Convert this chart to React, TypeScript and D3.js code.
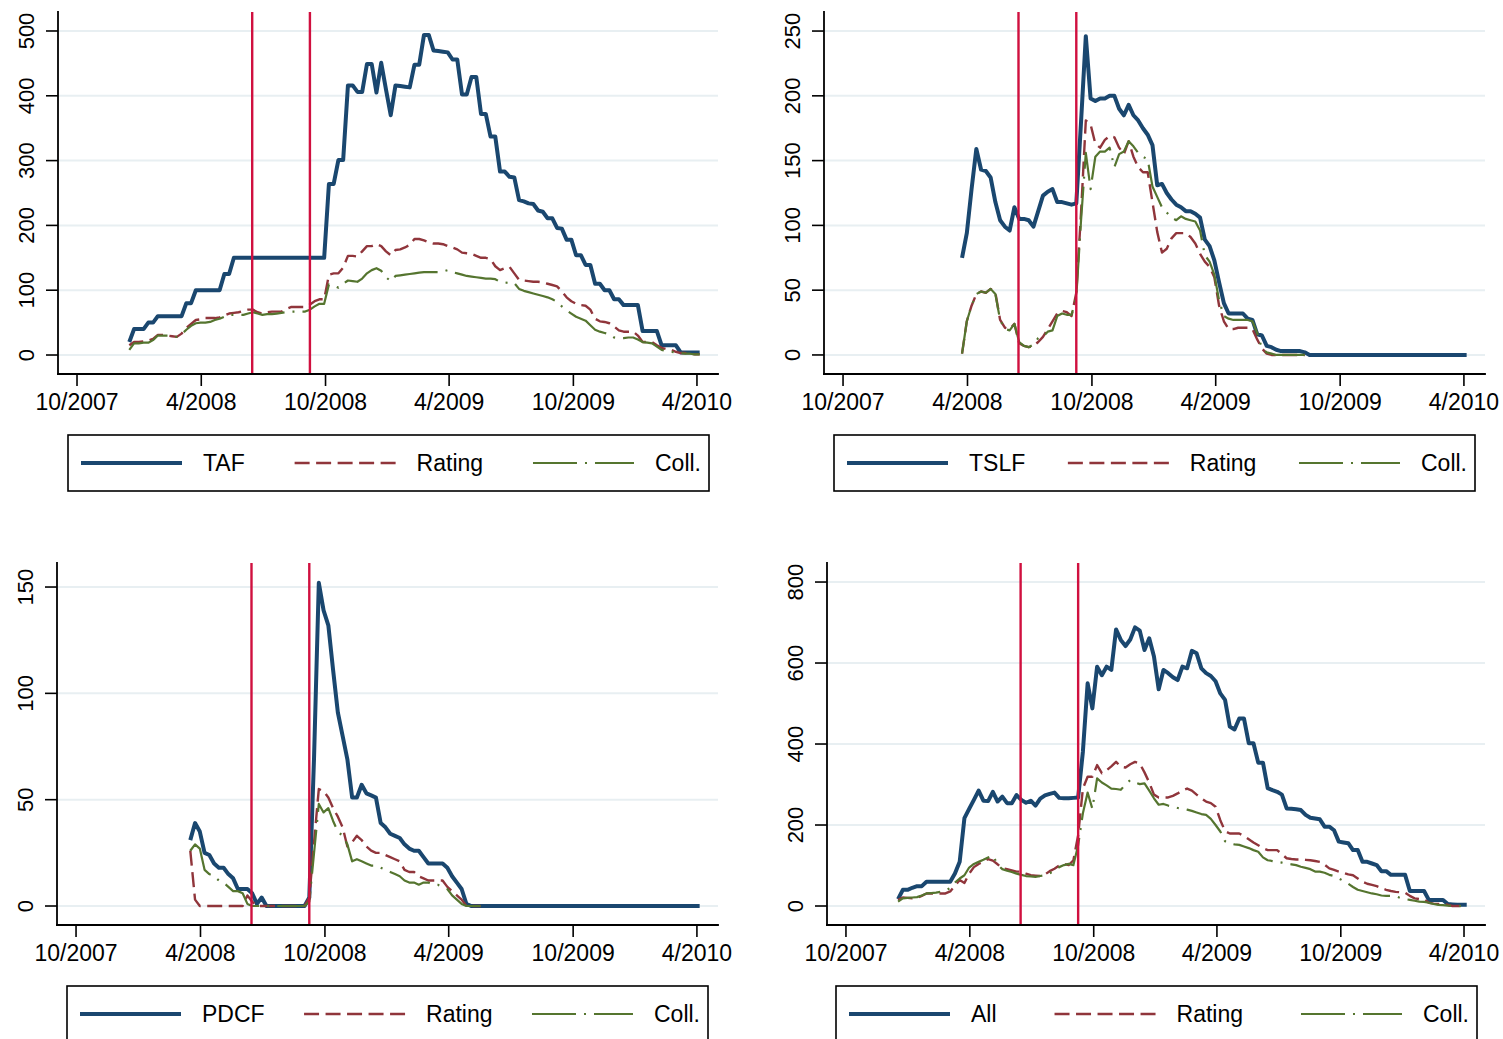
import React from "react";
import * as d3 from "d3";

// weekly observations; index 0 = week of 17 Dec 2007
const firstWeek = "2007-12-17";
const xDomainDates = ["2007-09-03", "2010-05-02"];
const xTickDates = ["2007-10-01", "2008-04-01", "2008-10-01", "2009-04-01", "2009-10-01", "2010-04-01"];
const xTickLabels = ["10/2007", "4/2008", "10/2008", "4/2009", "10/2009", "4/2010"];
const eventDates = ["2008-06-15", "2008-09-08"];
const seriesNames = ["Rating", "Coll."];

// TAF, starts week 0
const tafStart = 0;
const tafTicks = [0, 100, 200, 300, 400, 500];
const tafTotal = [
  20, 40, 40, 40, 50, 50, 60, 60, 60, 60,
  60, 60, 80, 80, 100, 100, 100, 100, 100, 100,
  125, 125, 150, 150, 150, 150, 150, 150, 150, 150,
  150, 150, 150, 150, 150, 150, 150, 150, 150, 150,
  150, 150, 264, 264, 301, 301, 416, 416, 406, 406,
  449, 449, 405, 451, 410, 370, 416, 415, 414, 413,
  448, 448, 494, 494, 470, 469, 468, 467, 456, 456,
  402, 402, 429, 429, 372, 372, 337, 337, 283, 283,
  275, 274, 239, 237, 234, 233, 223, 221, 211, 211,
  196, 195, 178, 178, 154, 154, 139, 139, 110, 110,
  100, 100, 86, 86, 77, 77, 77, 77, 37, 37,
  37, 37, 15, 15, 15, 15, 4, 4, 4, 4,
  4,
];
const tafRating = [
  15, 20, 20, 21, 22, 25, 31, 31, 30, 29,
  28, 33, 42, 48, 54, 55, 57, 57, 57, 58,
  61, 64, 65, 66, 68, 70, 70, 66, 64, 66,
  67, 67, 67, 71, 74, 74, 74, 74, 78, 83,
  86, 86, 124, 126, 126, 135, 153, 153, 152, 160,
  168, 168, 171, 168, 160, 154, 162, 163, 166, 170,
  179, 179, 177, 174, 172, 172, 171, 168, 166, 163,
  158, 157, 156, 153, 150, 150, 148, 137, 131, 134,
  136, 126, 116, 115, 114, 113, 113, 112, 110, 108,
  106, 98, 89, 83, 79, 77, 76, 70, 56, 52,
  51, 49, 44, 38, 36, 36, 36, 30, 20, 20,
  20, 15, 11, 9, 8, 5, 3, 3, 2, 1,
  1,
];
const tafColl = [
  8, 18, 18, 19, 19, 23, 30, 30, 30, 30,
  28, 32, 39, 45, 49, 50, 50, 51, 54, 56,
  59, 62, 62, 62, 62, 64, 66, 64, 62, 63,
  63, 64, 65, 66, 67, 67, 67, 67, 70, 75,
  79, 79, 109, 107, 104, 110, 115, 114, 113, 118,
  126, 131, 134, 130, 120, 114, 122, 123, 124, 125,
  126, 127, 128, 128, 128, 128, 129, 131, 128, 126,
  124, 122, 121, 120, 119, 118, 118, 117, 113, 112,
  111, 111, 102, 99, 97, 95, 93, 91, 89, 86,
  82, 75, 69, 64, 59, 56, 53, 46, 39, 36,
  34, 32, 27, 26, 26, 27, 27, 24, 20, 19,
  18, 13, 8, 6, 5, 4, 3, 2, 2, 1,
  1,
];

// TSLF, starts week 14
const tslfStart = 14;
const tslfTicks = [0, 50, 100, 150, 200, 250];
const tslfTotal = [
  75, 94, 128, 159, 143, 142, 137, 118, 104, 99,
  96, 114, 105, 105, 104, 99, 111, 123, 126, 128,
  118, 118, 117, 116, 117, 180, 246, 198, 196, 198,
  198, 200, 200, 190, 185, 193, 185, 181, 175, 170,
  162, 131, 132, 125, 120, 116, 114, 111, 111, 109,
  106, 89, 84, 73, 56, 40, 32, 32, 32, 32,
  28, 27, 16, 15, 7, 6, 4, 3, 3, 3,
  3, 3, 2, 0, 0, 0, 0, 0, 0, 0,
  0, 0, 0, 0, 0, 0, 0, 0, 0, 0,
  0, 0, 0, 0, 0, 0, 0, 0, 0, 0,
  0, 0, 0, 0, 0, 0, 0,
];
const tslfRating = [
  1, 26, 38, 47, 49, 48, 51, 48, 27, 21,
  20, 24, 9, 7, 6, 7, 10, 14, 20, 26,
  32, 34, 33, 30, 48, 110, 181, 178, 163, 160,
  166, 169, 168, 160, 155, 165, 153, 145, 141, 141,
  118, 95, 79, 82, 90, 94, 94, 94, 91, 86,
  78, 72, 68, 60, 38, 26, 20, 20, 21, 21,
  21, 20, 12, 5, 1, 0, 0, 0, 0, 0,
  0, 0, 0,
];
const tslfColl = [
  1, 26, 38, 47, 49, 48, 51, 47, 27, 20,
  19, 24, 10, 7, 6, 8, 13, 14, 18, 19,
  30, 32, 31, 31, 45, 104, 156, 128, 153, 157,
  157, 160, 145, 155, 157, 165, 161, 156, 153, 151,
  130, 122, 114, 110, 106, 104, 107, 105, 104, 103,
  96, 77, 72, 62, 42, 30, 28, 27, 27, 27,
  27, 26, 17, 5, 2, 1, 0, 0, 0, 0,
  0, 0, 0,
];

// PDCF, starts week 13
const pdcfStart = 13;
const pdcfTicks = [0, 50, 100, 150];
const pdcfTotal = [
  31, 39, 35, 25, 24, 20, 18, 18, 15, 13,
  8, 8, 8, 6, 1, 4, 0, 0, 0, 0,
  0, 0, 0, 0, 0, 4, 70, 152, 139, 132,
  111, 91, 80, 69, 51, 51, 57, 53, 52, 51,
  39, 37, 34, 33, 32, 29, 27, 26, 26, 23,
  20, 20, 20, 20, 18, 14, 11, 8, 1, 0,
  0, 0, 0, 0, 0, 0, 0, 0, 0, 0,
  0, 0, 0, 0, 0, 0, 0, 0, 0, 0,
  0, 0, 0, 0, 0, 0, 0, 0, 0, 0,
  0, 0, 0, 0, 0, 0, 0, 0, 0, 0,
  0, 0, 0, 0, 0, 0, 0, 0,
];
const pdcfRating = [
  26, 3, 0, 0, 0, 0, 0, 0, 0, 0,
  0, 0, 5, 2, 0, 0, 0, 0, 0, 0,
  0, 0, 0, 0, 0, 4, 30, 55, 54, 51,
  46, 42, 37, 28, 30, 33, 31, 28, 26, 25,
  25, 24, 23, 22, 21, 17, 16, 16, 14, 13,
  12, 12, 12, 12, 9, 7, 5, 3, 0, 0,
  0, 0,
];
const pdcfColl = [
  26, 29, 27, 17, 15, 14, 12, 11, 9, 7,
  7, 6, 1, 0, 0, 0, 0, 0, 0, 0,
  0, 0, 0, 0, 0, 2, 25, 48, 44, 46,
  40, 35, 33, 29, 21, 22, 21, 20, 19, 19,
  18, 17, 16, 15, 14, 12, 11, 11, 10, 11,
  11, 10, 10, 9, 8, 5, 3, 1, 0, 0,
  0, 0,
];

// All facilities, starts week 0
const allStart = 0;
const allTicks = [0, 200, 400, 600, 800];
const allTotal = [
  17, 40, 40, 45, 49, 49, 60, 60, 60, 60,
  60, 60, 80, 109, 217, 240, 262, 285, 260, 259,
  282, 258, 270, 254, 254, 274, 262, 255, 260, 248,
  265, 273, 277, 280, 267, 266, 266, 267, 268, 381,
  550, 488, 591, 570, 591, 583, 683, 657, 642, 658,
  688, 680, 632, 661, 616, 535, 583, 575, 565, 558,
  591, 587, 630, 624, 587, 575, 568, 555, 525, 509,
  443, 436, 463, 463, 402, 402, 354, 354, 291, 286,
  282, 275, 241, 240, 239, 237, 225, 218, 216, 214,
  196, 196, 187, 159, 157, 155, 138, 138, 109, 109,
  105, 101, 86, 86, 77, 77, 77, 77, 37, 37,
  37, 37, 15, 15, 15, 15, 5, 4, 3, 3,
  3,
];
const allRating = [
  15, 21, 20, 19, 20, 25, 31, 31, 31, 31,
  31, 36, 50, 64, 57, 80, 96, 104, 109, 116,
  112, 103, 93, 91, 88, 85, 85, 80, 76, 75,
  74, 78, 86, 92, 100, 104, 101, 113, 175, 290,
  319, 319, 348, 328, 335, 345, 356, 344, 342, 350,
  356, 352, 330, 305, 275, 268, 268, 268, 272, 278,
  285, 290, 285, 275, 266, 258, 254, 245, 212, 185,
  179, 179, 179, 173, 165, 157, 150, 143, 138, 138,
  138, 128, 118, 116, 115, 115, 114, 113, 111, 109,
  102, 93, 89, 85, 82, 78, 76, 68, 60, 55,
  52, 49, 44, 40, 37, 35, 34, 33, 25, 19,
  17, 16, 8, 6, 5, 5, 3, 0, 0, 0,
  0,
];
const allColl = [
  11, 19, 20, 21, 22, 26, 31, 32, 33, 35,
  37, 45, 58, 68, 76, 95, 104, 109, 114, 120,
  125, 102, 91, 87, 84, 80, 77, 74, 73, 72,
  74, 76, 81, 86, 96, 101, 104, 101, 150, 229,
  280, 240, 315, 305, 298, 290, 289, 287, 300, 311,
  305, 301, 303, 285, 266, 250, 252, 248, 245, 242,
  241, 238, 235, 231, 227, 225, 215, 200, 184, 160,
  154, 152, 151, 147, 143, 138, 134, 120, 113, 111,
  109, 107, 105, 103, 101, 97, 94, 91, 85, 85,
  82, 77, 74, 68, 62, 55, 47, 40, 37, 34,
  31, 29, 26, 25, 25, 24, 20, 17, 15, 13,
  11, 10, 8, 5, 3, 2, 1, 0, 0, 0,
  0,
];

const NAVY = "#1a476f";
const MAROON = "#90353b";
const GREEN = "#55752f";
const RED = "#d0103f";
const GRID = "#e8eff2";
const FONT = "'Liberation Sans', Arial, Helvetica, sans-serif";

const panels = [
  { name: "TAF", start: tafStart, total: tafTotal, rating: tafRating, coll: tafColl, ticks: tafTicks,
    yDomain: [-29.3, 529.3], x0: 58, x1: 718, y0: 12, y1: 374, legend: [68, 435, 709, 491] },
  { name: "TSLF", start: tslfStart, total: tslfTotal, rating: tslfRating, coll: tslfColl, ticks: tslfTicks,
    yDomain: [-14.7, 264.7], x0: 824, x1: 1485, y0: 12, y1: 374, legend: [834, 435, 1475, 491] },
  { name: "PDCF", start: pdcfStart, total: pdcfTotal, rating: pdcfRating, coll: pdcfColl, ticks: pdcfTicks,
    yDomain: [-8.93, 161.3], x0: 57, x1: 718, y0: 563, y1: 925, legend: [67, 986, 708, 1042] },
  { name: "All", start: allStart, total: allTotal, rating: allRating, coll: allColl, ticks: allTicks,
    yDomain: [-46.9, 847], x0: 827, x1: 1485, y0: 563, y1: 925, legend: [836, 986, 1477, 1042] },
];

const parse = d3.timeParse("%Y-%m-%d");
const week0 = parse(firstWeek) as Date;

let ctx: CanvasRenderingContext2D | null = null;
const textWidth = (s: string, size: number) => {
  if (!ctx) ctx = document.createElement("canvas").getContext("2d");
  if (!ctx) return s.length * size * 0.55;
  ctx.font = `${size}px ${FONT}`;
  return ctx.measureText(s).width;
};

const Panel = ({ p }: { p: any }) => {
  const x = d3.scaleTime().domain(xDomainDates.map(d => parse(d) as Date)).range([p.x0, p.x1]);
  const y = d3.scaleLinear().domain(p.yDomain).range([p.y1, p.y0]);

  const toPts = (vals: number[]) =>
    vals.map((v, k) => [d3.timeDay.offset(week0, 7 * (p.start + k)), v] as [Date, number]);
  const line = d3
    .line<[Date, number]>()
    .x(d => x(d[0]))
    .y(d => y(d[1]));

  const series = [
    { vals: p.total, color: NAVY, w: 4, dash: undefined },
    { vals: p.rating, color: MAROON, w: 2.4, dash: "15 6.5" },
    { vals: p.coll, color: GREEN, w: 2.2, dash: "44 8 2 8" },
  ];

  // legend layout: key, gap, label, spread evenly in the box
  const [lx0, ly0, lx1, ly1] = p.legend;
  const labels = [p.name, ...seriesNames];
  const keyLen = 101, keyGap = 21, padL = 13, padR = 8, fs = 23;
  const widths = labels.map(l => textWidth(l, fs));
  const used = d3.sum(widths) + labels.length * (keyLen + keyGap);
  const between = (lx1 - lx0 - padL - padR - used) / (labels.length - 1);
  let cursor = lx0 + padL;
  const items = labels.map((l, i) => {
    const it = { label: l, kx: cursor, tx: cursor + keyLen + keyGap, s: series[i] };
    cursor += keyLen + keyGap + widths[i] + between;
    return it;
  });
  const ly = (ly0 + ly1) / 2;

  return (
    <g>
      {p.ticks.map((t: number) => (
        <line key={"g" + t} x1={p.x0} x2={p.x1} y1={y(t)} y2={y(t)} stroke={GRID} strokeWidth={2} />
      ))}
      {series.map((s, i) => (
        <path key={"s" + i} d={line(toPts(s.vals)) || ""} fill="none" stroke={s.color}
          strokeWidth={s.w} strokeDasharray={s.dash} strokeLinejoin="round" />
      ))}
      {eventDates.map(d => {
        const ex = x(parse(d) as Date);
        return <line key={d} x1={ex} x2={ex} y1={p.y0} y2={p.y1} stroke={RED} strokeWidth={2.4} />;
      })}
      <line x1={p.x0} x2={p.x0} y1={p.y0} y2={p.y1} stroke="#000" strokeWidth={1.8} strokeLinecap="square" />
      <line x1={p.x0} x2={p.x1} y1={p.y1} y2={p.y1} stroke="#000" strokeWidth={1.8} strokeLinecap="square" />
      {p.ticks.map((t: number) => (
        <g key={"yt" + t}>
          <line x1={p.x0 - 12} x2={p.x0} y1={y(t)} y2={y(t)} stroke="#000" strokeWidth={1.6} />
          <text transform={`translate(${p.x0 - 24},${y(t)}) rotate(-90)`} textAnchor="middle"
            fontSize={22} fontFamily={FONT} fill="#000">{t}</text>
        </g>
      ))}
      {xTickDates.map((d, i) => {
        const tx = x(parse(d) as Date);
        return (
          <g key={"xt" + d}>
            <line x1={tx} x2={tx} y1={p.y1} y2={p.y1 + 12} stroke="#000" strokeWidth={1.6} />
            <text x={tx} y={p.y1 + 35.5} textAnchor="middle" fontSize={23} fontFamily={FONT} fill="#000">
              {xTickLabels[i]}
            </text>
          </g>
        );
      })}
      <rect x={lx0} y={ly0} width={lx1 - lx0} height={ly1 - ly0} fill="#fff" stroke="#000" strokeWidth={1.6} />
      {items.map(it => (
        <g key={"lg" + it.label}>
          <line x1={it.kx} x2={it.kx + keyLen} y1={ly} y2={ly} stroke={it.s.color}
            strokeWidth={it.s.w} strokeDasharray={it.s.dash} />
          <text x={it.tx} y={ly} dominantBaseline="central" fontSize={fs} fontFamily={FONT} fill="#000">
            {it.label}
          </text>
        </g>
      ))}
    </g>
  );
};

export default function App() {
  return (
    <svg width={1503} height={1039} style={{ position: "absolute", left: 0, top: 0, background: "#fff" }}>
      <rect x={0} y={0} width={1503} height={1039} fill="#fff" />
      {panels.map(p => (
        <Panel key={p.name} p={p} />
      ))}
    </svg>
  );
}
